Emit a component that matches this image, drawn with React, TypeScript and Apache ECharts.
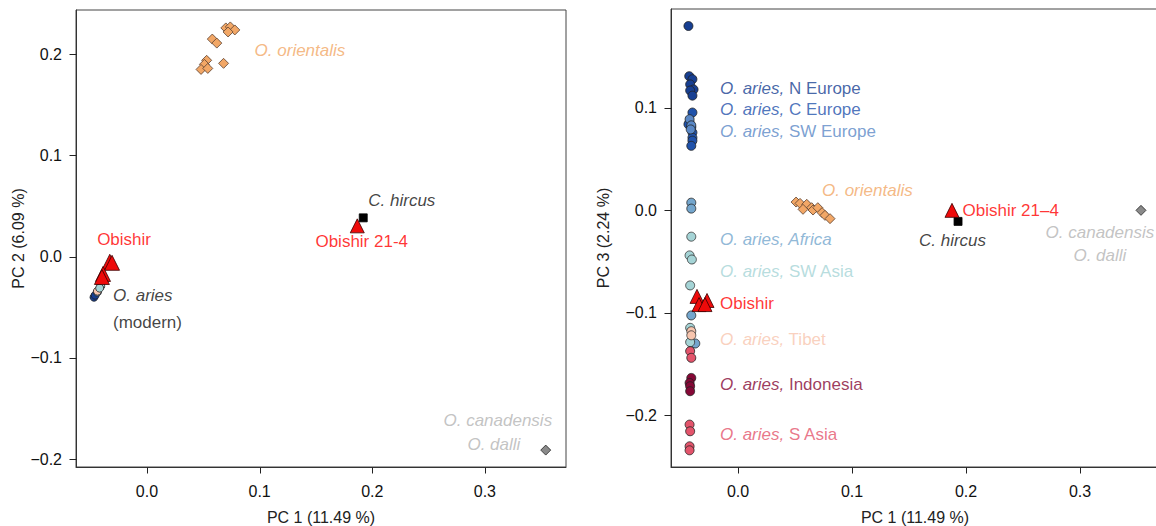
import React, { useEffect, useRef } from "react";
import * as echarts from "echarts";

const FONT = '"Liberation Sans", Arial, Helvetica, sans-serif';

// ---------- colours ----------
const C_NEUR = "#173f92";
const C_CEUR = "#1f52ab";
const C_SWEUR = "#5a88c6";
const C_AFR = "#74a6cd";
const C_SWASIA = "#a5d4d6";
const C_TIBET = "#f8c5ae";
const C_INDO = "#850836";
const C_SASIA = "#e3546b";
const C_ORIENT = "#f2a766";
const C_RED = "#ff0000";
const C_GREY = "#b4b4b4";

// ---------- axis ranges and ticks ----------
const L_XMIN = -0.063, L_XMAX = 0.372, L_YMIN = -0.2077, L_YMAX = 0.2437;
const R_XMIN = -0.0588, R_XMAX = 0.3693, R_YMIN = -0.2506, R_YMAX = 0.1966;
const xTicks = [0, 0.1, 0.2, 0.3];
const yTicksLeft = [-0.2, -0.1, 0, 0.1, 0.2];
const yTicksRight = [-0.2, -0.1, 0, 0.1];

// ---------- left panel: PC1 vs PC2 ----------
const leftOrientalis = [
  [0.07, 0.226], [0.074, 0.227], [0.078, 0.224], [0.072, 0.222],
  [0.058, 0.215], [0.062, 0.211], [0.053, 0.194], [0.051, 0.19],
  [0.048, 0.185], [0.054, 0.186], [0.068, 0.191],
];
const leftAriesNEurope = [[-0.047, -0.04], [-0.046, -0.038]];
const leftAriesAfrica = [[-0.044, -0.035]];
const leftAriesSWAsia = [[-0.041, -0.029], [-0.042, -0.031]];
const leftAriesTibet = [[-0.044, -0.034]];
const leftObishir = [[-0.033, -0.005], [-0.031, -0.006], [-0.039, -0.017], [-0.04, -0.02]];
const leftObishir214 = [[0.1867, 0.0305]];
const leftHircus = [[0.192, 0.0384]];
const leftCanadensis = [[0.354, -0.191]];

// ---------- right panel: PC1 vs PC3 ----------
const rightNEurope = [
  [-0.0435, 0.18], [-0.0428, 0.131], [-0.04, 0.128], [-0.042, 0.123],
  [-0.039, 0.118], [-0.042, 0.117], [-0.04, 0.112],
];
const rightCEurope = [
  [-0.04, 0.0955], [-0.0425, 0.086], [-0.0435, 0.084], [-0.041, 0.081],
  [-0.04, 0.076], [-0.04, 0.071], [-0.04, 0.068], [-0.041, 0.063],
];
const rightSWEurope = [[-0.0425, 0.089], [-0.041, 0.083], [-0.0415, 0.079]];
const rightAfrica = [[-0.041, 0.0075], [-0.041, 0.0017], [-0.041, -0.1026], [-0.0375, -0.13]];
const rightSWAsia = [
  [-0.041, -0.0257], [-0.0425, -0.044], [-0.0405, -0.048],
  [-0.042, -0.0733], [-0.042, -0.1147], [-0.042, -0.1287],
];
const rightTibet = [[-0.041, -0.118], [-0.041, -0.122]];
const rightIndonesia = [[-0.041, -0.1636], [-0.0425, -0.1685], [-0.042, -0.1717], [-0.042, -0.1766]];
const rightSAsia = [
  [-0.042, -0.1375], [-0.041, -0.144], [-0.0425, -0.2092],
  [-0.042, -0.2157], [-0.0425, -0.2304], [-0.0425, -0.2343],
];
const rightOrientalis = [
  [0.0509, 0.0081], [0.0544, 0.0068], [0.0603, 0.0059], [0.057, 0.001],
  [0.0646, 0.0026], [0.0658, 0.0003], [0.07, 0.0026], [0.0737, -0.0022],
  [0.0763, -0.0049], [0.0807, -0.0081],
];
const rightObishir = [[-0.036, -0.084], [-0.0272, -0.088], [-0.0342, -0.092], [-0.029, -0.092]];
const rightObishir214 = [[0.1877, 0.0]];
const rightHircus = [[0.193, -0.0108]];
const rightCanadensis = [[0.3535, 0.0]];

// ---------- text labels (anchor in data coords) ----------
type Lab = { parts: [string, boolean][]; at: number[]; align: string; color: string };
const leftLabels: Lab[] = [
  { parts: [["O. orientalis", true]], at: [0.0956, 0.204], align: "left", color: C_ORIENT },
  { parts: [["C. hircus", true]], at: [0.1965, 0.0552], align: "left", color: "#111" },
  { parts: [["Obishir 21-4", false]], at: [0.1496, 0.0148], align: "left", color: C_RED },
  { parts: [["Obishir", false]], at: [-0.0442, 0.0167], align: "left", color: C_RED },
  { parts: [["O. aries", true]], at: [-0.0301, -0.0384], align: "left", color: "#111" },
  { parts: [["(modern)", false]], at: [-0.0301, -0.065], align: "left", color: "#111" },
  { parts: [["O. canadensis", true]], at: [0.3115, -0.1616], align: "center", color: C_GREY },
  { parts: [["O. dalli", true]], at: [0.308, -0.186], align: "center", color: C_GREY },
];
const rightLabels: Lab[] = [
  { parts: [["O. aries,", true], [" N Europe", false]], at: [-0.0158, 0.1193], align: "left", color: C_NEUR },
  { parts: [["O. aries,", true], [" C Europe", false]], at: [-0.0158, 0.0987], align: "left", color: C_CEUR },
  { parts: [["O. aries,", true], [" SW Europe", false]], at: [-0.0158, 0.0772], align: "left", color: C_SWEUR },
  { parts: [["O. aries, Africa", true]], at: [-0.0158, -0.0283], align: "left", color: C_AFR },
  { parts: [["O. aries,", true], [" SW Asia", false]], at: [-0.0158, -0.0596], align: "left", color: C_SWASIA },
  { parts: [["Obishir", false]], at: [-0.0158, -0.0909], align: "left", color: C_RED },
  { parts: [["O. aries,", true], [" Tibet", false]], at: [-0.0158, -0.1261], align: "left", color: C_TIBET },
  { parts: [["O. aries,", true], [" Indonesia", false]], at: [-0.0158, -0.1701], align: "left", color: C_INDO },
  { parts: [["O. aries,", true], [" S Asia", false]], at: [-0.0158, -0.219], align: "left", color: C_SASIA },
  { parts: [["O. orientalis", true]], at: [0.0737, 0.0196], align: "left", color: C_ORIENT },
  { parts: [["Obishir 21\u20134", false]], at: [0.197, 0.0], align: "left", color: C_RED },
  { parts: [["C. hircus", true]], at: [0.1588, -0.0293], align: "left", color: "#111" },
  { parts: [["O. canadensis", true]], at: [0.3175, -0.0215], align: "center", color: C_GREY },
  { parts: [["O. dalli", true]], at: [0.3175, -0.044], align: "center", color: C_GREY },
];

const fmt = (v: number) => {
  const a = Math.abs(v).toFixed(1);
  return Math.abs(v) < 1e-9 ? "0.0" : v < 0 ? "\u2212" + a : a;
};

function xAxis(gridIndex: number, min: number, max: number) {
  return {
    type: "value", gridIndex, min, max, position: "bottom",
    name: "PC 1 (11.49 %)", nameLocation: "middle", nameGap: 42,
    nameTextStyle: { fontSize: 16, color: "#222", fontFamily: FONT },
    axisLine: { show: true, onZero: false, lineStyle: { color: "#333", width: 1 } },
    axisTick: { show: false },
    axisLabel: { customValues: xTicks, formatter: fmt, fontSize: 16, color: "#111", margin: 16, fontFamily: FONT },
    splitLine: { show: false },
  };
}
function yAxis(gridIndex: number, min: number, max: number, name: string, ticks: number[], gap: number) {
  return {
    type: "value", gridIndex, min, max, position: "left",
    name, nameLocation: "middle", nameGap: gap,
    nameTextStyle: { fontSize: 16, color: "#222", fontFamily: FONT },
    axisLine: { show: true, onZero: false, lineStyle: { color: "#333", width: 1 } },
    axisTick: { show: false },
    axisLabel: { customValues: ticks, formatter: fmt, fontSize: 16, color: "#111", margin: 14, fontFamily: FONT },
    splitLine: { show: false },
  };
}

// tick marks drawn through the axes' own scales (custom series, outward ticks)
function tickSeries(idx: number, ticks: number[], fixed: number, dir: "x" | "y") {
  return {
    type: "custom", xAxisIndex: idx, yAxisIndex: idx, silent: true, z: 5, clip: false,
    data: ticks.map((v) => (dir === "x" ? [v, fixed] : [fixed, v])),
    renderItem: (_params: any, api: any) => {
      const p = api.coord([api.value(0), api.value(1)]);
      const x = Math.round(p[0]) + 0.5;
      const y = Math.round(p[1]) + 0.5;
      const shape = dir === "x"
        ? { x1: x, y1: y, x2: x, y2: y + 6 }
        : { x1: x, y1: y, x2: x - 7, y2: y };
      return { type: "line", shape, style: { stroke: "#222", lineWidth: 1 } };
    },
  };
}

function pts(data: number[][], idx: number, symbol: string, size: number, color: string, border: string, z = 2) {
  return {
    type: "scatter", xAxisIndex: idx, yAxisIndex: idx, data, symbol, symbolSize: size, z,
    itemStyle: { color, borderColor: border, borderWidth: 0.8, opacity: 1 },
    silent: true,
  };
}

function labels(list: Lab[], idx: number) {
  return {
    type: "scatter", xAxisIndex: idx, yAxisIndex: idx, symbolSize: 0.1, z: 10, silent: true,
    itemStyle: { color: "transparent" },
    data: list.map((l) => {
      const rich: any = {};
      let f = "";
      l.parts.forEach((p, i) => {
        rich["p" + i] = { fontStyle: p[1] ? "italic" : "normal", color: l.color, fontSize: 17, fontFamily: FONT };
        f += "{p" + i + "|" + p[0] + "}";
      });
      return {
        value: l.at,
        label: {
          show: true, position: [0, 0], align: l.align, verticalAlign: "middle",
          formatter: f, rich, color: l.color, fontSize: 17, fontFamily: FONT,
        },
      };
    }),
  };
}

export default function App() {
  const ref = useRef<HTMLDivElement>(null);
  useEffect(() => {
    if (!ref.current) return;
    const chart = echarts.init(ref.current, null, { renderer: "svg" });
    const tri = "triangle";
    chart.setOption({
      animation: false,
      backgroundColor: "#fff",
      textStyle: { fontFamily: FONT },
      grid: [
        {
          left: 76, top: 10, width: 490, height: 457, show: true, borderColor: "#444", borderWidth: 1,
          backgroundColor: "transparent", containLabel: false, outerBoundsMode: "none",
        },
        {
          left: 671, top: 9, width: 488, height: 458, show: true, borderColor: "#444", borderWidth: 1,
          backgroundColor: "transparent", containLabel: false, outerBoundsMode: "none",
        },
      ],
      xAxis: [xAxis(0, L_XMIN, L_XMAX), xAxis(1, R_XMIN, R_XMAX)],
      yAxis: [
        yAxis(0, L_YMIN, L_YMAX, "PC 2 (6.09 %)", yTicksLeft, 50),
        yAxis(1, R_YMIN, R_YMAX, "PC 3 (2.24 %)", yTicksRight, 60),
      ],
      series: [
        // ticks
        tickSeries(0, xTicks, L_YMIN, "x"),
        tickSeries(0, yTicksLeft, L_XMIN, "y"),
        tickSeries(1, xTicks, R_YMIN, "x"),
        tickSeries(1, yTicksRight, R_XMIN, "y"),
        // left
        pts(leftOrientalis, 0, "diamond", 10, C_ORIENT, "#5a4030"),
        pts(leftAriesNEurope, 0, "circle", 8, C_NEUR, "#222"),
        pts(leftAriesAfrica, 0, "circle", 8, C_AFR, "#222"),
        pts(leftAriesTibet, 0, "circle", 8, C_TIBET, "#222"),
        pts(leftAriesSWAsia, 0, "circle", 8, C_SWASIA, "#222"),
        pts(leftCanadensis, 0, "diamond", 10, "#8a8a8a", "#222"),
        pts(leftHircus, 0, "rect", 8, "#000", "#000"),
        pts(leftObishir214, 0, tri, 14, "#ee0a0a", "#3a0000", 4),
        pts(leftObishir, 0, tri, 15, "#ee0a0a", "#3a0000", 4),
        labels(leftLabels, 0),
        // right
        pts(rightNEurope, 1, "circle", 9, C_NEUR, "#222"),
        pts(rightCEurope, 1, "circle", 9, C_CEUR, "#222"),
        pts(rightSWEurope, 1, "circle", 9, C_SWEUR, "#222"),
        pts(rightAfrica, 1, "circle", 9, C_AFR, "#222"),
        pts(rightSWAsia, 1, "circle", 9, C_SWASIA, "#333"),
        pts(rightTibet, 1, "circle", 9, C_TIBET, "#333"),
        pts(rightIndonesia, 1, "circle", 9, C_INDO, "#222"),
        pts(rightSAsia, 1, "circle", 9, C_SASIA, "#222"),
        pts(rightOrientalis, 1, "diamond", 10, C_ORIENT, "#5a4030"),
        pts(rightCanadensis, 1, "diamond", 10, "#8a8a8a", "#222"),
        pts(rightHircus, 1, "rect", 8, "#000", "#000"),
        pts(rightObishir214, 1, tri, 14, "#ee0a0a", "#3a0000", 4),
        pts(rightObishir, 1, tri, 14, "#ee0a0a", "#3a0000", 4),
        labels(rightLabels, 1),
      ],
    });
    return () => chart.dispose();
  }, []);
  return (
    <div
      ref={ref}
      style={{ position: "absolute", left: 0, top: 0, width: 1156, height: 526, overflow: "hidden" }}
    />
  );
}
